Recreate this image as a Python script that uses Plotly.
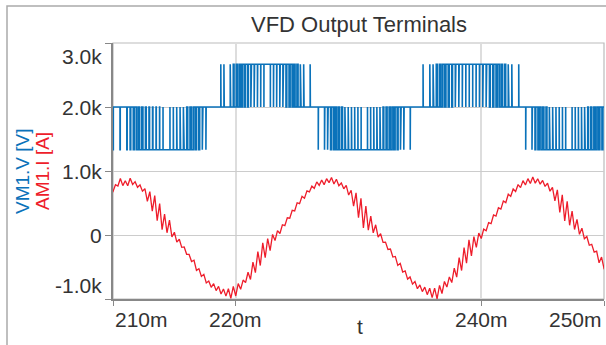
import plotly.graph_objects as go

# ---------------- data ----------------
title_text = "VFD Output Terminals"
x_title = "t"
y_title_v = "VM1.V [V]"
y_title_i = "AM1.I [A]"

x_tick_vals = [210, 220, 240, 250]          # ms
x_tick_text = ["210m", "220m", "240m", "250m"]
y_tick_vals = [-1000, 0, 1000, 2000, 3000]
y_tick_text = ["-1.0k", "0", "1.0k", "2.0k", "3.0k"]

# PWM voltage: mid level and pulse segments (start ms, end ms, pulse level)
v_mid = 2000
seg_start = [209.6, 218.4, 226.6, 234.85, 243.5]
seg_end = [218.0, 226.2, 234.35, 243.2, 251.3]
seg_level = [1333, 2667, 1333, 2667, 1333]
# fraction of each carrier cycle spent at the pulse level
duty_A = [0.0, 0.05, 0.0, 0.07, 0.0, 0.10, 0.20, 0.35, 0.50, 0.62, 0.72, 0.80, 0.86, 0.90, 0.94,
          0.97, 1.0, 1.0, 0.96, 0.93, 0.88, 0.82, 0.75, 0.66, 0.55, 0.42, 0.30, 0.18, 0.08, 0.0]
duty_B = [0.0, 0.06, 0.10, 0.0, 0.15, 0.25, 0.38, 0.50, 0.60, 0.70, 0.78, 0.85, 0.90, 0.94, 0.97,
          1.0, 1.0, 0.97, 0.93, 0.90, 0.84, 0.78, 0.70, 0.60, 0.48, 0.36, 0.22, 0.12, 0.0, 0.06]
duty_C = [0.05, 0.0, 0.10, 0.18, 0.30, 0.44, 0.56, 0.66, 0.75, 0.82, 0.88, 0.92, 0.95, 0.98, 1.0,
          1.0, 0.97, 0.94, 0.90, 0.86, 0.80, 0.72, 0.64, 0.54, 0.42, 0.30, 0.20, 0.10, 0.0, 0.05]
duty_D = [0.0, 0.05, 0.0, 0.10, 0.20, 0.32, 0.45, 0.56, 0.66, 0.74, 0.81, 0.87, 0.92, 0.96, 0.98,
          1.0, 0.98, 0.95, 0.91, 0.86, 0.80, 0.73, 0.64, 0.54, 0.43, 0.31, 0.20, 0.10, 0.0, 0.05]
duty_E = [0.06, 0.0, 0.12, 0.25, 0.40, 0.55, 0.66, 0.75, 0.83, 0.89, 0.93, 0.96, 0.98, 1.0, 1.0,
          0.97, 0.94, 0.90, 0.85, 0.79, 0.72, 0.63, 0.53, 0.42, 0.30, 0.18, 0.08, 0.0, 0.05, 0.0]
seg_duties = [duty_A, duty_B, duty_C, duty_D, duty_E]

# Current samples (A), every 0.2 ms starting at 209.8 ms
i_t0 = 209.8
i_dt = 0.2
i_vals = [
    700, 679, 785, 765, 882, 772, 848, 770, 887, 788, 834, 746, 783, 685, 723, 527, 677, 373, 615, 225,
    491, 84, 326, 35, 232, -31, 44, -112, -67, -193, -187, -302, -304, -415, -395, -552, -526, -647, -615, -749,
    -720, -818, -760, -869, -802, -921, -845, -955, -840, -989, -804, -953, -759, -849, -704, -745, -582, -694, -423, -587,
    -259, -477, -122, -355, -56, -244, 9, -87, 68, 23, 160, 145, 269, 263, 385, 375, 504, 490, 603, 574,
    690, 673, 763, 729, 830, 776, 859, 787, 880, 817, 900, 798, 871, 769, 813, 721, 775, 624, 699, 450,
    658, 272, 572, 109, 453, 75, 295, 33, 160, -35, 20, -115, -111, -226, -220, -344, -335, -475, -443, -578,
    -561, -689, -656, -767, -726, -840, -780, -885, -815, -932, -832, -978, -830, -997, -788, -914, -726, -813, -655, -743,
    -517, -657, -353, -555, -195, -441, -74, -326, -25, -192, 31, -54, 92, 67, 193, 177, 312, 294, 425, 405,
    532, 506, 637, 605, 719, 680, 788, 740, 849, 782, 881, 805, 905, 810, 879, 794, 853, 759, 809, 684,
    745, 532, 704, 353, 627, 219, 527, 152, 375, 86, 244, 11, 107, -58, -23, -160, -145, -269, -253, -435,
    -345, -524, -500,
]

# ---------------- build traces ----------------
vx, vy = [seg_start[0] - 0.5], [v_mid]
for s, e, lvl, duties in zip(seg_start, seg_end, seg_level, seg_duties):
    T = (e - s) / len(duties)
    intervals = []
    for k, d in enumerate(duties):
        if d <= 0:
            continue
        c = s + (k + 0.5) * T
        a, b = c - d * T / 2, c + d * T / 2
        if intervals and a <= intervals[-1][1] + 1e-9:
            intervals[-1][1] = b
        else:
            intervals.append([a, b])
    for a, b in intervals:
        vx += [a, a, b, b]
        vy += [v_mid, lvl, lvl, v_mid]
vx.append(seg_end[-1] + 0.5)
vy.append(v_mid)

ix = [i_t0 + k * i_dt for k in range(len(i_vals))]

BLUE = "#0A72BA"
RED = "#EE1D2B"
TXT = "#333333"
FONT = "Liberation Sans, Arial, sans-serif"

fig = go.Figure()
fig.add_trace(go.Scatter(x=vx, y=vy, mode="lines", line=dict(color=BLUE, width=1.6),
                         name="VM1.V", showlegend=False, hoverinfo="skip"))
fig.add_trace(go.Scatter(x=ix, y=i_vals, mode="lines", line=dict(color=RED, width=1.3),
                         name="AM1.I", showlegend=False, hoverinfo="skip"))

L, R, T_, B = 113, 2, 43, 46
W, H = 606, 345
pw, ph = W - L - R, H - T_ - B


def px_to_paper_x(px):
    return (px - L) / pw


def px_to_paper_y(py):
    return (H - B - py) / ph


fig.update_layout(
    width=W, height=H,
    margin=dict(l=L, r=R, t=T_, b=B),
    paper_bgcolor="white", plot_bgcolor="white",
    font=dict(family=FONT, color=TXT, size=20),
    xaxis=dict(range=[x_tick_vals[0], x_tick_vals[-1]], tickvals=x_tick_vals, showticklabels=False,
               ticks="outside", ticklen=5, tickcolor="#888", showgrid=True, gridcolor="#dddddd",
               gridwidth=1.5, showline=True, linecolor="#888", linewidth=1.5, zeroline=False,
               fixedrange=True),
    yaxis=dict(range=[y_tick_vals[0], y_tick_vals[-1]], tickvals=y_tick_vals, showticklabels=False,
               ticks="outside", ticklen=6, tickcolor="#888", showgrid=True, gridcolor="#cccccc",
               gridwidth=1.2, showline=True, linecolor="#888", linewidth=1.5, zeroline=False,
               fixedrange=True),
)

shapes = [
    dict(type="rect", xref="paper", yref="paper", x0=0, y0=0, x1=1, y1=1,
         line=dict(color="#bbbbbb", width=1.2), layer="below"),
    dict(type="rect", xref="paper", yref="paper",
         x0=px_to_paper_x(7), y0=px_to_paper_y(360), x1=px_to_paper_x(620), y1=px_to_paper_y(6),
         line=dict(color="#aaaaaa", width=1.5)),
]
fig.update_layout(shapes=shapes)

ann = []
# title
ann.append(dict(text=title_text, xref="paper", yref="paper", x=0.5, y=px_to_paper_y(24),
                xanchor="center", yanchor="middle", showarrow=False, font=dict(size=22, color=TXT)))
# x title
ann.append(dict(text=x_title, xref="paper", yref="paper", x=px_to_paper_x(360), y=px_to_paper_y(326),
                xanchor="center", yanchor="middle", showarrow=False, font=dict(size=21, color=TXT)))
# y titles
ann.append(dict(text=y_title_v, xref="paper", yref="paper", x=px_to_paper_x(22), y=0.5,
                xanchor="center", yanchor="middle", textangle=-90, showarrow=False,
                font=dict(size=19, color=BLUE)))
ann.append(dict(text=y_title_i, xref="paper", yref="paper", x=px_to_paper_x(42), y=0.5,
                xanchor="center", yanchor="middle", textangle=-90, showarrow=False,
                font=dict(size=19, color=RED)))
# x tick labels
for k, (v, t) in enumerate(zip(x_tick_vals, x_tick_text)):
    xa = "left" if k == 0 else ("right" if k == len(x_tick_vals) - 1 else "center")
    ann.append(dict(text=t, xref="x", yref="paper", x=v, y=0, xanchor=xa, yanchor="top",
                    yshift=-7, showarrow=False, font=dict(size=21, color=TXT)))
# y tick labels
for k, (v, t) in enumerate(zip(y_tick_vals, y_tick_text)):
    ya = "bottom" if k == 0 else ("top" if k == len(y_tick_vals) - 1 else "middle")
    ann.append(dict(text=t, xref="paper", yref="y", x=0, y=v, xanchor="right", yanchor=ya,
                    xshift=-9, showarrow=False, font=dict(size=21, color=TXT)))
fig.update_layout(annotations=ann)

fig.write_html("out.html", config={"displayModeBar": False},
               post_script="document.body.style.margin='0';document.body.style.overflow='hidden';")
